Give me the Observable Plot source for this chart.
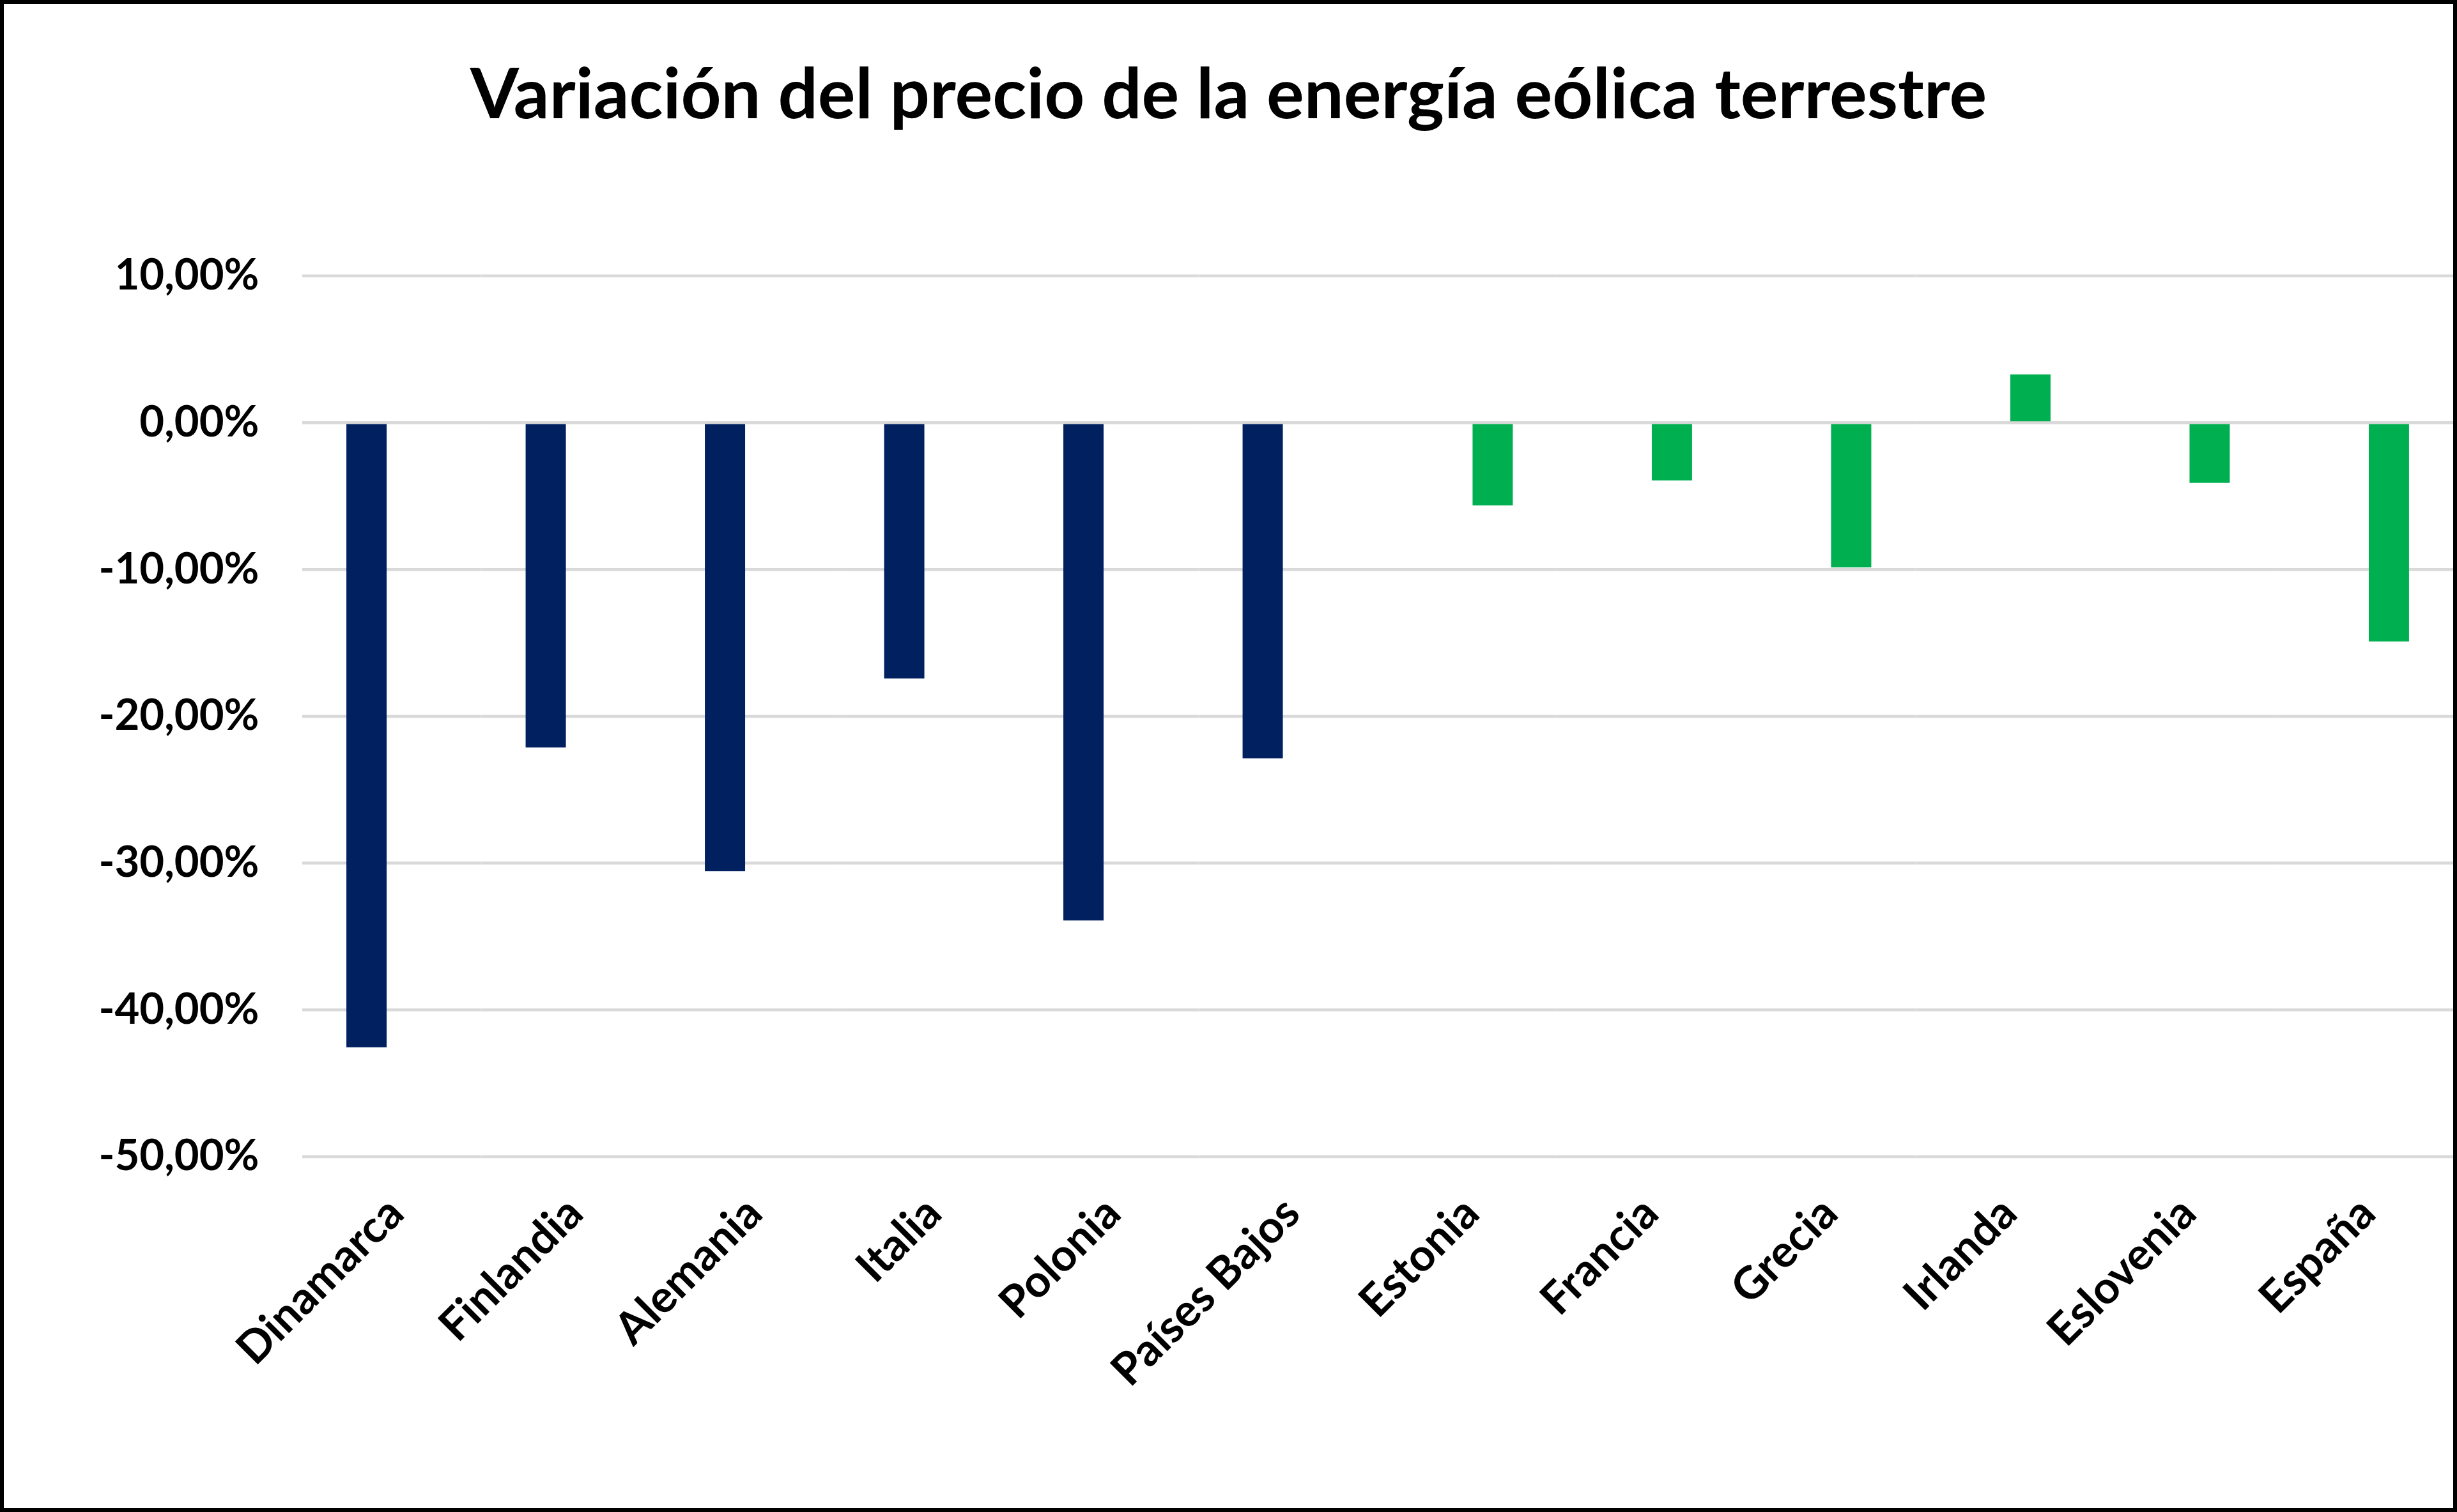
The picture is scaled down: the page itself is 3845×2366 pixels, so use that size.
<!DOCTYPE html>
<html><head><meta charset="utf-8">
<script src="https://cdn.jsdelivr.net/npm/d3@7"></script>
<script src="https://cdn.jsdelivr.net/npm/@observablehq/plot@0.6"></script>
<style>
html,body{margin:0;padding:0;background:#fff;}
#frame{width:3845px;height:2366px;box-sizing:border-box;border:6px solid #000;background:#fff;overflow:hidden;}
#title{height:250px;box-sizing:border-box;padding-top:70px;font:700 110px/132px Lato, sans-serif;text-align:center;color:#000;white-space:nowrap;}
#chart svg{display:block;}
</style></head><body>
<div id="frame"><div id="title">Variación del precio de la energía eólica terrestre</div><div id="chart"></div></div>
<script>
const countries = ["Dinamarca","Finlandia","Alemania","Italia","Polonia","Países Bajos","Estonia","Francia","Grecia","Irlanda","Eslovenia","España"];
const values = [-42.57,-22.14,-30.57,-17.44,-33.93,-22.88,-5.65,-3.95,-9.87,3.27,-4.12,-14.92];
const groups = ["azul","azul","azul","azul","azul","azul","verde","verde","verde","verde","verde","verde"];
const groupNames = ["azul","verde"];
const groupColors = ["#002060","#00B050"];
const yTicks = [10,0,-10,-20,-30,-40,-50];

const rows = countries.map((c,i)=>({country:c, group:groups[i], value:values[i]}));
const fmt = d => d.toFixed(2).replace(".", ",") + "%";

const chart = Plot.plot({
  width: 3833, height: 2104,
  marginTop: 175.3, marginBottom: 550.5, marginLeft: 467, marginRight: 0,
  style: {fontFamily: "Lato, sans-serif", fontWeight: 700, color: "#000", background: "#fff"},
  fx: {domain: countries, padding: 0, round: false, label: null},
  x: {domain: groupNames, paddingInner: 0.2066, paddingOuter: 0.87, round: false, axis: null},
  y: {domain: [-50, 10], label: null},
  color: {domain: groupNames, range: groupColors},
  marks: [
    Plot.ruleY(yTicks, {stroke: "#d9d9d9", strokeWidth: 4.5}),
    Plot.barY(rows, {fx: "country", x: "group", y: "value", fill: "group"}),
    Plot.ruleY([0], {stroke: "#d9d9d9", strokeWidth: 4.5}),
    Plot.axisY(yTicks, {tickSize: 0, tickPadding: 68, tickFormat: fmt, fontSize: 67, label: null}),
    Plot.axisFx({anchor: "bottom", tickSize: 0, tickPadding: 77, dx: 6, tickRotate: -45, fontSize: 70, label: null})
  ]
});
document.getElementById("chart").appendChild(chart);
</script>
</body></html>
